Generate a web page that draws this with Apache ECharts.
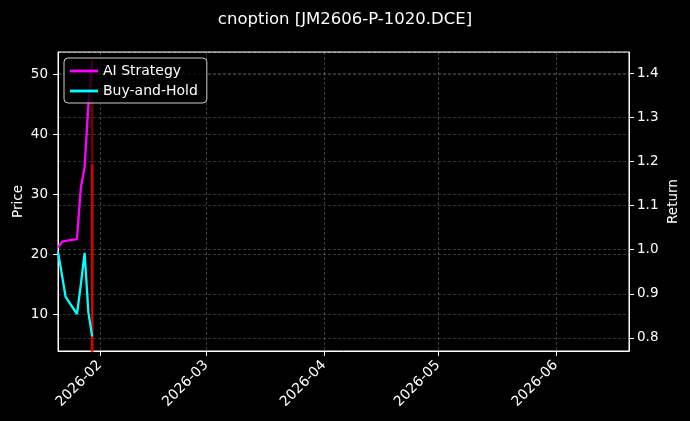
<!DOCTYPE html>
<html>
<head>
<meta charset="utf-8">
<script src="https://cdn.jsdelivr.net/npm/echarts@6/dist/echarts.min.js"></script>
<style>
html,body{margin:0;padding:0;background:#000;}
#c{width:690px;height:421px;}
</style>
</head>
<body>
<div id="c"></div>
<script>
const titleText = 'cnoption [JM2606-P-1020.DCE]';
const dates = ['2026-01-21','2026-01-22','2026-01-23','2026-01-26','2026-01-27','2026-01-28','2026-01-29','2026-01-30'];
const aiStrategy = [1.005, 1.018, 1.020, 1.024, 1.140, 1.187, 1.330, 1.428];
const buyHold    = [0.995, 0.945, 0.893, 0.854, 0.920, 0.993, 0.857, 0.803];
const priceDates = ['2026-01-30','2026-01-30'];
const priceLow   = [35, 3];
const priceHigh  = [52.7, 35];
const xMin = '2026-01-21';
const xMax = '2026-06-20 06:00';
const priceRange = [3.9, 53.7];
const returnRange = [0.770, 1.449];

const font = 'DejaVu Sans';
const pair = (xs, ys) => xs.map((d, i) => [d, ys[i]]);
const chart = echarts.init(document.getElementById('c'), null, {renderer: 'canvas'});
const lineIcon = 'path://M0,0 L40,0 L40,4 L0,4 Z';

chart.setOption({
  backgroundColor: '#000',
  animation: false,
  textStyle: {fontFamily: font},
  title: {
    text: titleText, left: 'center', top: 6,
    textStyle: {color: '#fff', fontSize: 16.5, fontWeight: 'normal', fontFamily: font}
  },
  legend: {
    data: [{name: 'AI Strategy', icon: lineIcon}, {name: 'Buy-and-Hold', icon: lineIcon}],
    orient: 'vertical', left: 64, top: 58,
    itemWidth: 28, itemHeight: 3, itemGap: 6,
    padding: [6, 9, 5, 6],
    backgroundColor: 'rgba(0,0,0,0.8)',
    borderColor: '#cccccc', borderWidth: 1, borderRadius: 4,
    textStyle: {color: '#fff', fontSize: 14, fontFamily: font}
  },
  grid: {left: 58, right: 61, top: 52, bottom: 70, outerBoundsMode: 'none', containLabel: false,
    show: true, borderColor: '#fff', borderWidth: 1, backgroundColor: 'transparent'},
  xAxis: {
    type: 'time', min: xMin, max: xMax,
    minInterval: 28 * 86400000,
    axisLine: {show: true, lineStyle: {color: '#fff'}},
    axisTick: {show: true, length: 5, lineStyle: {color: '#fff'}},
    axisLabel: {
      color: '#fff', fontSize: 14, fontFamily: font, rotate: 45, margin: 12,
      showMinLabel: false, showMaxLabel: false,
      formatter: function (v) {
        const d = new Date(v);
        if (d.getDate() !== 1) return '';
        return d.getFullYear() + '-' + String(d.getMonth() + 1).padStart(2, '0');
      }
    },
    splitLine: {show: true, lineStyle: {color: 'rgba(255,255,255,0.3)', type: [3, 2], width: 0.8}}
  },
  yAxis: [
    {
      type: 'value', min: priceRange[0], max: priceRange[1], splitNumber: 5,
      name: 'Price', nameLocation: 'middle', nameGap: 33, nameRotate: 90, nameMoveOverlap: false,
      nameTextStyle: {color: '#fff', fontSize: 13.5, fontFamily: font},
      axisLine: {show: true, lineStyle: {color: '#fff'}},
      axisTick: {show: true, length: 5, lineStyle: {color: '#fff'}},
      axisLabel: {color: '#fff', fontSize: 13.5, fontFamily: font, margin: 10, showMinLabel: false, showMaxLabel: false},
      splitLine: {show: true, lineStyle: {color: 'rgba(255,255,255,0.25)', type: [3, 2], width: 0.8}}
    },
    {
      type: 'value', min: returnRange[0], max: returnRange[1], splitNumber: 7,
      name: 'Return', nameLocation: 'middle', nameGap: 37, nameRotate: 90, nameMoveOverlap: false,
      nameTextStyle: {color: '#fff', fontSize: 13.5, fontFamily: font},
      axisLine: {show: true, lineStyle: {color: '#fff'}},
      axisTick: {show: true, length: 5, lineStyle: {color: '#fff'}},
      axisLabel: {color: '#fff', fontSize: 13.5, fontFamily: font, margin: 8, showMinLabel: false, showMaxLabel: false,
        formatter: v => v.toFixed(1)},
      splitLine: {show: true, lineStyle: {color: 'rgba(255,255,255,0.25)', type: [3, 2], width: 0.8}}
    }
  ],
  series: [
    {
      name: 'Price high', type: 'line', yAxisIndex: 0, data: pair(priceDates, priceHigh),
      symbol: 'none', lineStyle: {color: '#ff0000', width: 2.4, opacity: 0.45}, z: 1
    },
    {
      name: 'Price', type: 'line', yAxisIndex: 0, data: pair(priceDates, priceLow),
      symbol: 'none', lineStyle: {color: '#ff0000', width: 2.6, opacity: 0.85}, z: 1
    },
    {
      name: 'AI Strategy', type: 'line', yAxisIndex: 1, data: pair(dates, aiStrategy),
      symbol: 'none', itemStyle: {color: '#ff00ff'}, lineStyle: {color: '#ff00ff', width: 2.3}, z: 3
    },
    {
      name: 'Buy-and-Hold', type: 'line', yAxisIndex: 1, data: pair(dates, buyHold),
      symbol: 'none', itemStyle: {color: '#00ffff'}, lineStyle: {color: '#00ffff', width: 2.3}, z: 3
    }
  ]
});
</script>
</body>
</html>
